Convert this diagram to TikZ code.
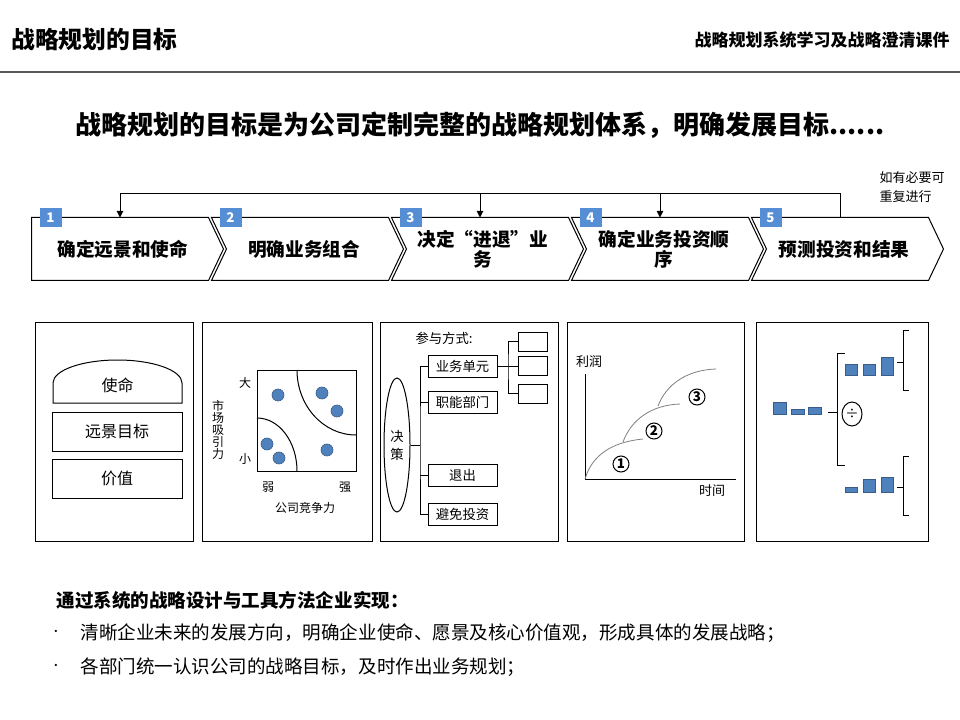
\documentclass[tikz,border=0pt]{standalone}
\usepackage{fontspec}
\setmainfont{Noto Sans CJK SC}
\usetikzlibrary{arrows.meta,shapes.geometric}

\definecolor{badgeblue}{RGB}{85,142,213}
\definecolor{dotblue}{RGB}{79,129,189}
\definecolor{dotedge}{RGB}{56,93,138}
\definecolor{rulegray}{RGB}{89,89,89}

\begin{document}
\begin{tikzpicture}[
    x=0.75pt, y=-0.75pt,
    line width=0.75pt,
    stepbox/.style={minimum width=132pt, minimum height=46.5pt, inner sep=0pt, align=center, font=\fontsize{14}{15}\selectfont\bfseries},
    badge/.style={fill=badgeblue, minimum width=16.5pt, minimum height=14.25pt, inner sep=0pt, text=white, font=\fontsize{10}{12}\selectfont\bfseries},
    arrow/.style={-{Triangle[width=5pt,length=5pt]}},
    box/.style={draw, minimum width=97.5pt, minimum height=29.25pt, inner sep=0pt, font=\fontsize{12}{14}\selectfont},
    small/.style={font=\fontsize{9}{9}\selectfont, inner sep=0pt, align=center},
    dot/.style={circle, draw=dotedge, fill=dotblue, minimum size=9pt, inner sep=0pt, line width=0.5pt},
    unit/.style={draw, minimum width=51.75pt, minimum height=16.5pt, inner sep=0pt, font=\fontsize{10}{12}\selectfont},
    leaf/.style={draw, minimum width=21.75pt, minimum height=14.25pt, inner sep=0pt},
    num/.style={circle, draw, minimum size=12pt, inner sep=0pt, font=\fontsize{10}{12}\selectfont\bfseries},
    bar/.style={fill=dotblue, draw=dotedge, line width=0.5pt},
    curve/.style={gray, line width=0.6pt},
    line/.style={font=\fontsize{13.9}{16}\selectfont, anchor=west, inner sep=0pt},
    bullet/.style={font=\fontsize{8}{10}\selectfont, inner sep=0pt}
]

\useasboundingbox (0,0) rectangle (960,720);
\fill[white] (0,0) rectangle (960,720);

% header
\node[anchor=west, inner sep=0pt, font=\fontsize{17.8}{20}\selectfont\bfseries] (title) at (11,39) {战略规划的目标};
\node[anchor=east, inner sep=0pt, font=\fontsize{12.75}{15}\selectfont\bfseries] (course) at (950,40) {战略规划系统学习及战略澄清课件};
\draw[rulegray, line width=1.5pt] (0,72) -- (960,72);

\node[font=\fontsize{19.5}{22}\selectfont\bfseries] (goal) at (480,125) {战略规划的目标是为公司定制完整的战略规划体系，明确发展目标......};

% five steps
\node[stepbox] (step1) at (120,249) {\hspace*{4pt}确定远景和使命};
\node[stepbox] (step2) at (300,249) {\hspace*{6pt}明确业务组合};
\node[stepbox] (step3) at (480,249) {\hspace*{4pt}决定“进退”业\\\hspace*{4pt}务};
\node[stepbox] (step4) at (660,249) {\hspace*{6pt}确定业务投资顺\\\hspace*{6pt}序};
\node[stepbox] (step5) at (840,249) {\hspace*{6pt}预测投资和结果};

\draw (step1.north west) -- (step1.north east) -- ([xshift=11.25pt]step1.east) -- (step1.south east) -- (step1.south west) -- cycle;
\foreach \i in {2,...,5}
  \draw (step\i.north west) -- (step\i.north east) -- ([xshift=11.25pt]step\i.east) -- (step\i.south east) -- (step\i.south west) -- ([xshift=11.25pt]step\i.west) -- cycle;
\foreach \i in {1,...,5}
  \node[badge] (b\i) at ([xshift=14.25pt]step\i.north west) {\i};

% repeat loop
\coordinate (back) at (840,194);
\draw[arrow] (step5.north) -- (back) -| (step1.north);
\draw[arrow] (step3.north |- back) -- (step3.north);
\draw[arrow] (step4.north |- back) -- (step4.north);
\node[anchor=west, align=left, inner sep=0pt, font=\fontsize{9.75}{14}\selectfont] (again) at (879,187) {如有必要可\\重复进行};

% panels
\foreach \a/\b in {35/193, 202/372, 380/558, 567/744, 756/928}
  \draw (\a,322) rectangle (\b,541);

% panel 1
\draw (53,403) -- (53,383) arc[start angle=180, end angle=360, x radius=64.5, y radius=23] -- (182,403) -- cycle;
\node[font=\fontsize{12}{14}\selectfont] (mission) at (117.5,385) {使命};
\node[box] (vision) at (117,431.5) {远景目标};
\node[box] (values) at (117,478.5) {价值};

% panel 2
\draw (257,370) rectangle (356,471);
\draw (297,370) arc[start angle=180, end angle=90, x radius=59, y radius=65];
\draw (257,418) arc[start angle=270, end angle=360, x radius=40, y radius=53];
\node[dot] (d1) at (278,395) {};
\node[dot] (d2) at (322,393) {};
\node[dot] (d3) at (337,411) {};
\node[dot] (d4) at (267,444) {};
\node[dot] (d5) at (279,458) {};
\node[dot] (d6) at (327,450) {};
\node[small] (big) at (245,383) {大};
\node[small] (little) at (245,459) {小};
\node[small] (weak) at (268,487) {弱};
\node[small] (strong) at (345,487) {强};
\node[small] (compete) at (305,508) {公司竞争力};
\node[small] (attract) at (218,430) {市\\场\\吸\\引\\力};

% panel 3
\node[anchor=west, inner sep=0pt, font=\fontsize{10}{12}\selectfont] (mode) at (415,338) {参与方式:};
\node[ellipse, draw, minimum width=19.5pt, minimum height=100.5pt, inner sep=0pt, align=center, font=\fontsize{10}{13.5}\selectfont] (decide) at (397,445) {决\\策};
\node[unit] (bu) at (462.5,366) {业务单元};
\node[unit] (fd) at (462.5,402.5) {职能部门};
\node[unit] (quit) at (462.5,475.5) {退出};
\node[unit] (avoid) at (462.5,514) {避免投资};
\coordinate (trunk) at (420,445);
\draw (decide) -- (trunk);
\draw (bu.west) -| (trunk) |- (avoid.west);
\draw (fd.west) -- (fd.west -| trunk);
\draw (quit.west) -- (quit.west -| trunk);
\node[leaf] (u1) at (532.5,341.5) {};
\node[leaf] (u2) at (532.5,366) {};
\node[leaf] (u3) at (532.5,393.5) {};
\coordinate (fork) at (508,366);
\draw (bu) -- (u2);
\draw (u1.west) -| (fork) |- (u3.west);

% panel 4
\coordinate (origin) at (585,479);
\draw (585,374) -- (origin) -- (736,479);
\node[font=\fontsize{9.75}{12}\selectfont, inner sep=0pt] (profit) at (589,362) {利润};
\node[font=\fontsize{9.75}{12}\selectfont, inner sep=0pt] (time) at (712,491) {时间};
\draw[curve] (origin) .. controls (592,455) and (612,442) .. (643,439);
\draw[curve] (623,442) .. controls (631,420) and (651,405) .. (680,404);
\draw[curve] (658,406) .. controls (666,385) and (686,370) .. (716,369);
\node[num] (n1) at (621,464) {1};
\node[num] (n2) at (654,431) {2};
\node[num] (n3) at (697,397) {3};

% panel 5
\foreach \x/\t in {773/402, 791/409, 808/407}
  \draw[bar] (\x,\t) rectangle (\x+13,414);
\foreach \x/\t in {845/364, 863/364, 881/357}
  \draw[bar] (\x,\t) rectangle (\x+12,375);
\foreach \x/\t in {845/487, 863/479, 881/477}
  \draw[bar] (\x,\t) rectangle (\x+12,492);
\draw (828,412) -- (837,412);
\draw (845,353) -- (837,353) -- (837,465) -- (845,465);
\node[ellipse, draw, minimum width=15pt, minimum height=18pt, inner sep=0pt, font=\fontsize{10}{12}\selectfont] (divide) at (852,414) {÷};
\draw (897,362) -- (903,362);
\draw (909,330) -- (903,330) -- (903,390) -- (909,390);
\draw (897,487) -- (903,487);
\draw (909,456) -- (903,456) -- (903,515) -- (909,515);

% summary
\node[line, font=\fontsize{13.9}{16}\selectfont\bfseries] (how) at (56,600) {通过系统的战略设计与工具方法企业实现：};
\node[bullet] (dot1) at (56,633) {·};
\node[line] (line1) at (80,633) {清晰企业未来的发展方向，明确企业使命、愿景及核心价值观，形成具体的发展战略；};
\node[bullet] (dot2) at (56,667) {·};
\node[line] (line2) at (80,667) {各部门统一认识公司的战略目标，及时作出业务规划；};

\end{tikzpicture}
\end{document}
